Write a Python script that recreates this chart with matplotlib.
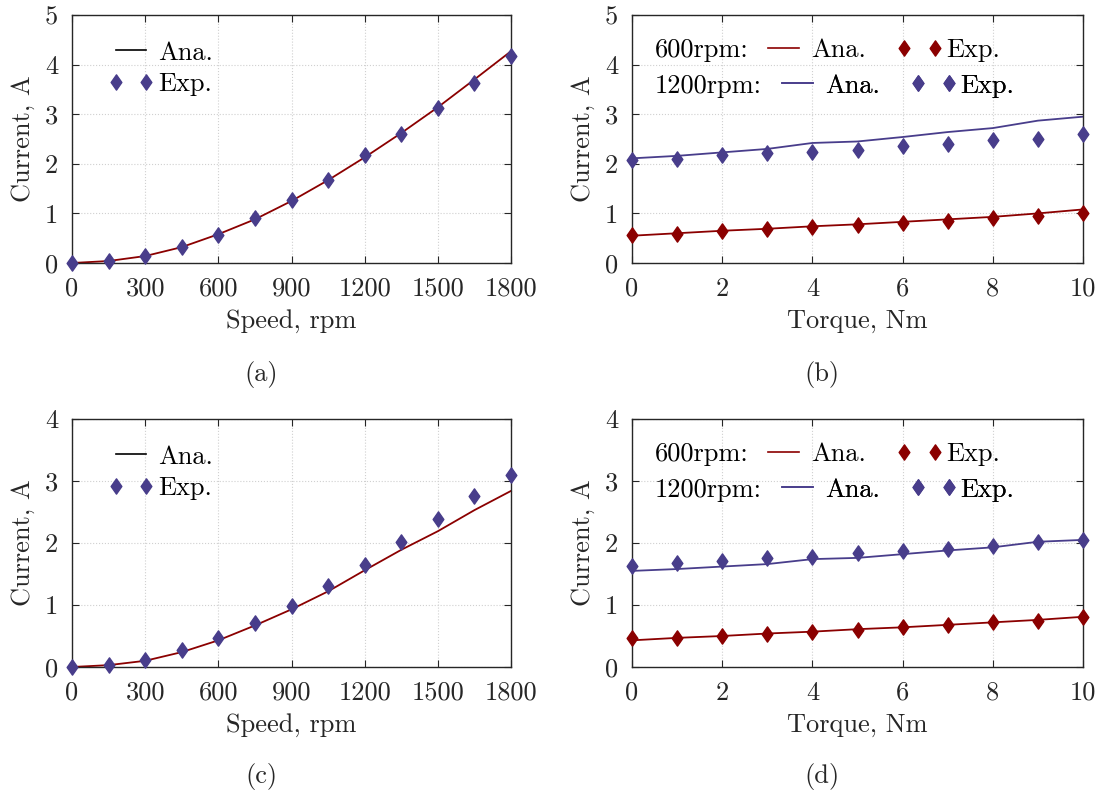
import matplotlib
matplotlib.use("Agg")
import matplotlib.pyplot as plt
from matplotlib.lines import Line2D
from matplotlib.legend_handler import HandlerLine2D
from matplotlib.path import Path

plt.rcParams['font.family'] = ['cmr10', 'DejaVu Serif']
plt.rcParams['mathtext.fontset'] = 'cm'
plt.rcParams['axes.unicode_minus'] = False
plt.rcParams['font.size'] = 19

RED = '#8b0000'
BLUE = '#483d8b'
FS = 19

# (a) and (c): current vs speed
speed = [0, 150, 300, 450, 600, 750, 900, 1050, 1200, 1350, 1500, 1650, 1800]
a_ana = [0, 0.04, 0.14, 0.32, 0.58, 0.88, 1.25, 1.67, 2.13, 2.62, 3.14, 3.70, 4.27]
a_exp = [0, 0.05, 0.15, 0.33, 0.57, 0.90, 1.27, 1.67, 2.17, 2.60, 3.12, 3.62, 4.17]
c_ana = [0, 0.03, 0.10, 0.24, 0.43, 0.67, 0.93, 1.22, 1.56, 1.89, 2.19, 2.53, 2.84]
c_exp = [0, 0.04, 0.12, 0.27, 0.46, 0.71, 0.98, 1.30, 1.64, 2.02, 2.39, 2.76, 3.10]

# (b) and (d): current vs torque
torque = [0, 1, 2, 3, 4, 5, 6, 7, 8, 9, 10]
b_ana600 = [0.55, 0.60, 0.65, 0.69, 0.74, 0.78, 0.83, 0.88, 0.93, 1.00, 1.08]
b_exp600 = [0.56, 0.58, 0.65, 0.68, 0.72, 0.76, 0.81, 0.85, 0.91, 0.95, 1.00]
b_ana1200 = [2.11, 2.16, 2.23, 2.30, 2.42, 2.45, 2.54, 2.64, 2.72, 2.87, 2.95]
b_exp1200 = [2.08, 2.10, 2.17, 2.21, 2.23, 2.28, 2.35, 2.39, 2.47, 2.50, 2.61]
d_ana600 = [0.43, 0.47, 0.50, 0.54, 0.57, 0.61, 0.64, 0.68, 0.72, 0.76, 0.81]
d_exp600 = [0.46, 0.47, 0.50, 0.53, 0.57, 0.60, 0.64, 0.67, 0.72, 0.75, 0.80]
d_ana1200 = [1.55, 1.58, 1.62, 1.66, 1.74, 1.76, 1.82, 1.88, 1.93, 2.02, 2.05]
d_exp1200 = [1.63, 1.67, 1.71, 1.76, 1.77, 1.84, 1.87, 1.90, 1.95, 2.01, 2.05]

fig = plt.figure(figsize=(11.03, 7.94), dpi=100)
W, H = 1103, 794

# diamond a bit wider than matplotlib's 'd'
DIAMOND = Path([(0, 1), (0.7, 0), (0, -1), (-0.7, 0), (0, 1)],
               [Path.MOVETO, Path.LINETO, Path.LINETO, Path.LINETO, Path.CLOSEPOLY])
MS = 11

# markers sit right at both ends of the legend handle
hmap = {Line2D: HandlerLine2D(marker_pad=0, numpoints=2)}


def make_ax(x0, x1, y0, y1):
    ax = fig.add_axes([x0 / W, 1 - y1 / H, (x1 - x0) / W, (y1 - y0) / H])
    ax.tick_params(direction='in', top=True, right=True, length=5, width=0.8,
                   labelsize=FS, pad=10, colors='#262626', labelcolor='#262626')
    ax.grid(True, linestyle=':', color='#d0d0d0', linewidth=0.8)
    ax.set_axisbelow(True)
    for s in ax.spines.values():
        s.set_color('#262626')
        s.set_linewidth(1.0)
    ax.set_ylabel('Current, A', fontsize=FS, labelpad=7, color='#262626')
    return ax


mk = dict(marker=DIAMOND, markersize=MS, linestyle='none', clip_on=False, zorder=5)


def speed_plot(ax, ana, exp, ymax):
    ax.plot(speed, ana, color=RED, lw=1.3, clip_on=False)
    ax.plot(speed, exp, color=BLUE, **mk)
    ax.set_xlim(0, 1800)
    ax.set_ylim(0, ymax)
    ax.set_xticks(range(0, 1801, 300))
    ax.set_yticks(range(0, ymax + 1))
    ax.set_xlabel('Speed, rpm', fontsize=FS, labelpad=6, color='#262626')
    h = [Line2D([], [], color='black', lw=1.2),
         Line2D([], [], color=BLUE, marker=DIAMOND, markersize=MS, linestyle='none')]
    ax.legend(h, ['Ana.', 'Exp.'], loc='center left', bbox_to_anchor=(0.1, 0.784),
              frameon=False, handler_map=hmap, handlelength=1.14, handletextpad=0.45,
              labelspacing=0.3, fontsize=FS, borderpad=0, borderaxespad=0)


def torque_plot(ax, a6, e6, a12, e12, ymax):
    ax.plot(torque, a6, color=RED, lw=1.3, clip_on=False)
    ax.plot(torque, e6, color=RED, **mk)
    ax.plot(torque, a12, color=BLUE, lw=1.3, clip_on=False)
    ax.plot(torque, e12, color=BLUE, **mk)
    ax.set_xlim(0, 10)
    ax.set_ylim(0, ymax)
    ax.set_xticks(range(0, 11, 2))
    ax.set_yticks(range(0, ymax + 1))
    ax.set_xlabel('Torque, Nm', fontsize=FS, labelpad=6, color='#262626')
    rows = [('600rpm:', RED, 0.3016, 0.857), ('1200rpm:', BLUE, 0.3326, 0.715)]
    for lab, col, x0, y in rows:
        ax.text(0.051, y, lab, transform=ax.transAxes, fontsize=FS, va='center')
        h = [Line2D([], [], color=col, lw=1.2),
             Line2D([], [], color=col, marker=DIAMOND, markersize=MS, linestyle='none')]
        leg = ax.legend(h, ['Ana.', 'Exp.'], loc='center left', bbox_to_anchor=(x0, y),
                        frameon=False, ncol=2, handler_map=hmap, handlelength=1.17,
                        handletextpad=0.45, columnspacing=1.44, fontsize=FS,
                        borderaxespad=0, borderpad=0)
        ax.add_artist(leg)


ax_a = make_ax(72, 511, 15, 263)
speed_plot(ax_a, a_ana, a_exp, 5)
ax_b = make_ax(632, 1083, 15, 263)
torque_plot(ax_b, b_ana600, b_exp600, b_ana1200, b_exp1200, 5)
ax_c = make_ax(72, 511, 419, 667)
speed_plot(ax_c, c_ana, c_exp, 4)
ax_d = make_ax(632, 1083, 419, 667)
torque_plot(ax_d, d_ana600, d_exp600, d_ana1200, d_exp1200, 4)

for lab, x, y in [('(a)', 261, 375), ('(b)', 822, 375), ('(c)', 261, 777), ('(d)', 822, 777)]:
    fig.text(x / W, 1 - y / H, lab, ha='center', va='center', fontsize=FS, color='#262626')

fig.savefig('out.png', dpi=100)
